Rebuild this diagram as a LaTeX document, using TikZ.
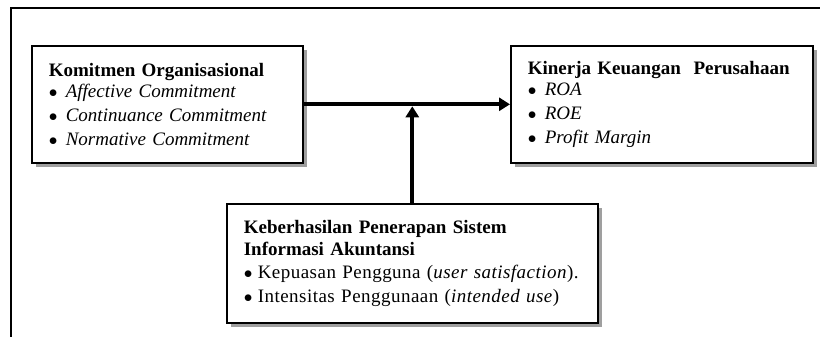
\documentclass[tikz,border=0pt]{standalone}
\usepackage{fontspec}
\setmainfont{Liberation Serif}
\usetikzlibrary{positioning, calc, shadows, arrows.meta}
\tikzset{
        konsep-box/.style={
            draw, line width=1.6pt, fill=white, anchor=north west,
            inner xsep=17pt, inner ysep=0pt, align=left,
            font=\fontsize{19}{24}\selectfont,
            drop shadow={shadow xshift=4pt, shadow yshift=-4pt, fill=gray!75, opacity=1}
        },
        pengaruh/.style={
            line width=4pt, -{Triangle[length=11pt, width=13pt]}
        },
}
\newcommand{\butir}[1]{\makebox[17pt][l]{$\bullet$}#1}
\newcommand{\butirb}[1]{\makebox[14pt][l]{$\bullet$}{\addfontfeature{LetterSpace=2.5}#1}}

\begin{document}
\begin{tikzpicture}[x=1pt, y=-1pt]

        \useasboundingbox (0,0) rectangle (820,337);

        % OUTER FRAME
        \draw [line width=1.2pt] (11,337) -- (11,8) -- (820,8);

        % DRAW NODES
        \node[konsep-box, minimum width=271pt, minimum height=117pt, text width=237pt]
            (komitmen) at (31,45) {%
            \textbf{Komitmen Organisasional}\\[-3pt]
            \butir{\textit{Affective Commitment}}\\
            \butir{\textit{Continuance Commitment}}\\
            \butir{\textit{Normative Commitment}}};
        \node[konsep-box, minimum width=302pt, minimum height=117pt, text width=268pt]
            (kinerja) at (510,45) {%
            \textbf{Kinerja Keuangan~ Perusahaan}\\[-3pt]
            \butir{\textit{ROA}}\\
            \butir{\textit{ROE}}\\
            \butir{\textit{Profit Margin}}};
        \node[konsep-box, minimum width=371pt, minimum height=119pt, text width=337pt]
            (sistem) at (226,203) {%
            \textbf{Keberhasilan Penerapan Sistem}\\[-2pt]
            \textbf{Informasi Akuntansi}\\[-1pt]
            \butirb{Kepuasan Pengguna (\textit{user satisfaction}).}\\
            \butirb{Intensitas Penggunaan (\textit{intended use})}};

        % CONNECT BOXES
        \draw [pengaruh] (komitmen.east) -- (kinerja.west);
        \draw [pengaruh, shorten >=2pt] (sistem.north) -- (sistem.north |- komitmen.east);

\end{tikzpicture}
\end{document}
